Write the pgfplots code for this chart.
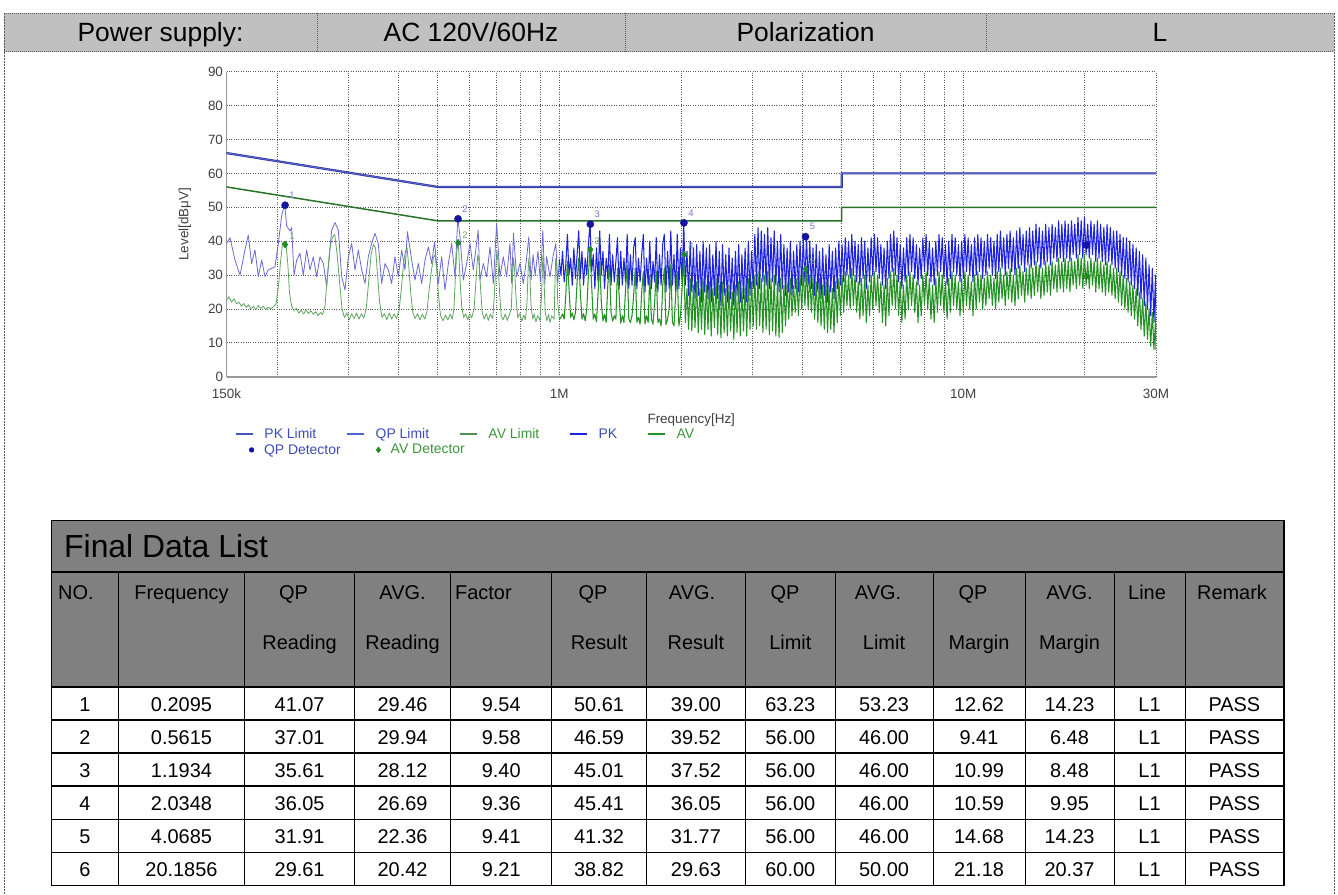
\documentclass[border=0pt]{standalone}
\usepackage{fontspec}
\setmainfont{Liberation Sans}
\usepackage{pgfplots}
\usepackage{pgfplotstable}
\pgfplotsset{compat=1.18}
\definecolor{hdrgray}{RGB}{192,192,192}
\definecolor{tabgray}{RGB}{128,128,128}
\definecolor{pklim}{RGB}{45,45,140}
\definecolor{qplim}{RGB}{80,100,215}
\definecolor{avlim}{RGB}{40,115,40}
\definecolor{pkA}{RGB}{105,105,215}
\definecolor{pkB}{RGB}{30,35,225}
\definecolor{avA}{RGB}{95,165,95}
\definecolor{avB}{RGB}{35,145,35}
\definecolor{qpdet}{RGB}{20,20,160}
\definecolor{avdet}{RGB}{30,140,30}
\definecolor{lblue}{RGB}{120,120,205}
\definecolor{lgreen}{RGB}{110,170,110}
\definecolor{legblue}{RGB}{60,75,185}
\definecolor{leggreen}{RGB}{60,150,60}
\definecolor{framec}{RGB}{90,90,90}

% PK trace, 150 kHz - 1 MHz (lf = log10 of frequency in MHz, L in dBuV)
\pgfplotstableread[row sep=\\]{lf L\\
-0.8239 39.3\\ -0.8152 41.0\\ -0.8029 34.4\\ -0.7905 30.0\\ -0.7781 37.4\\ -0.7699 41.8\\ -0.7616 33.4\\ -0.7534 37.4\\ -0.7451 29.5\\ -0.7368 34.4\\
-0.7286 29.5\\ -0.7204 31.5\\ -0.7121 32.0\\ -0.7039 32.4\\ -0.6956 39.3\\ -0.6874 47.5\\ -0.6800 51.0\\ -0.6750 44.5\\ -0.6667 43.0\\ -0.6626 44.0\\
-0.6568 30.0\\ -0.6502 34.4\\ -0.6420 36.4\\ -0.6337 30.0\\ -0.6255 37.4\\ -0.6172 31.5\\ -0.6090 35.4\\ -0.6007 29.5\\ -0.5925 35.4\\ -0.5842 33.4\\
-0.5760 26.6\\ -0.5636 43.2\\ -0.5553 45.5\\ -0.5471 43.2\\ -0.5388 29.5\\ -0.5306 25.6\\ -0.5223 35.4\\ -0.5141 39.3\\ -0.5058 31.5\\ -0.4976 37.4\\
-0.4893 31.5\\ -0.4811 27.5\\ -0.4728 35.4\\ -0.4646 39.3\\ -0.4563 42.3\\ -0.4481 39.3\\ -0.4398 27.5\\ -0.4316 33.4\\ -0.4233 31.5\\ -0.4151 27.5\\
-0.4068 35.4\\ -0.3986 29.5\\ -0.3903 37.4\\ -0.3821 31.5\\ -0.3760 42.8\\ -0.3656 34.4\\ -0.3573 28.5\\ -0.3491 33.4\\ -0.3408 27.5\\ -0.3326 34.4\\
-0.3243 38.3\\ -0.3161 33.4\\ -0.3090 39.8\\ -0.2996 27.5\\ -0.2913 35.4\\ -0.2831 25.6\\ -0.2748 33.4\\ -0.2666 39.3\\ -0.2583 29.5\\ -0.2515 47.0\\
-0.2460 41.3\\ -0.2377 28.5\\ -0.2295 33.4\\ -0.2212 39.3\\ -0.2130 31.5\\ -0.2010 43.2\\ -0.1965 28.5\\ -0.1882 33.4\\ -0.1800 29.5\\ -0.1717 38.3\\
-0.1635 27.5\\ -0.1552 45.2\\ -0.1470 29.5\\ -0.1387 35.4\\ -0.1305 29.5\\ -0.1222 39.3\\ -0.1180 27.5\\ -0.1135 42.3\\ -0.1057 29.5\\ -0.0975 33.4\\
-0.0892 27.5\\ -0.0810 35.0\\ -0.0757 41.3\\ -0.0700 28.5\\ -0.0650 36.0\\ -0.0600 30.0\\ -0.0530 37.0\\ -0.0470 28.0\\ -0.0410 43.2\\ -0.0360 27.5\\
-0.0315 35.4\\ -0.0232 29.5\\ -0.0150 36.0\\ -0.0088 39.3\\ -0.0040 27.5\\ 0.0000 34.4\\
}\pkAtab

% PK trace, 1 MHz - 30 MHz
\pgfplotstableread[row sep=\\]{lf L\\
0.000 34.4\\ 0.004 30\\ 0.008 37\\ 0.012 28\\ 0.016 33\\ 0.020 42\\ 0.024 30\\ 0.028 35\\ 0.032 27\\ 0.036 38\\ 0.040 29\\
0.044 36\\ 0.048 43\\ 0.052 29\\ 0.056 37\\ 0.060 27\\ 0.064 35\\ 0.068 30\\ 0.072 39\\ 0.076 45.5\\ 0.080 31\\
0.084 36\\ 0.088 26\\ 0.092 38\\ 0.096 28\\ 0.100 43\\ 0.104 30\\ 0.108 37\\ 0.112 26\\ 0.116 35\\ 0.120 29\\
0.124 42\\ 0.128 27\\ 0.132 36\\ 0.136 28\\ 0.140 34\\ 0.144 41\\ 0.148 26\\ 0.152 37\\ 0.156 27\\ 0.160 35\\
0.164 28\\ 0.168 42\\ 0.172 26\\ 0.176 36\\ 0.180 27\\ 0.184 38\\ 0.188 41\\ 0.192 26\\ 0.196 35\\ 0.200 28\\
0.204 36\\ 0.208 42\\ 0.212 25\\ 0.216 35\\ 0.220 27\\ 0.224 40\\ 0.228 26\\ 0.232 34\\ 0.236 28\\ 0.240 41\\
0.244 25\\ 0.248 36\\ 0.252 27\\ 0.256 39\\ 0.260 42\\ 0.264 25\\ 0.268 37\\ 0.272 26\\ 0.276 43\\ 0.280 27\\
0.284 36\\ 0.288 25\\ 0.292 42\\ 0.296 26\\ 0.300 38\\ 0.304 28\\ 0.308 45.5\\ 0.312 27\\ 0.316 37\\ 0.320 24\\
0.324 40\\ 0.328 25\\ 0.332 38\\ 0.336 23\\ 0.340 39\\ 0.344 24\\ 0.348 37\\ 0.352 22\\ 0.356 40\\ 0.360 25\\
0.364 38\\ 0.368 23\\ 0.372 39\\ 0.376 22\\ 0.380 36\\ 0.384 24\\ 0.388 40\\ 0.392 23\\ 0.396 37\\ 0.400 21\\
0.404 39\\ 0.408 24\\ 0.412 36\\ 0.416 22\\ 0.420 38\\ 0.424 23\\ 0.428 35\\ 0.432 21\\ 0.436 37\\ 0.440 24\\
0.444 39\\ 0.448 22\\ 0.452 36\\ 0.456 23\\ 0.460 38\\ 0.464 22\\ 0.468 40\\ 0.472 24\\ 0.476 37\\ 0.480 26\\
0.484 42\\ 0.488 27\\ 0.492 44\\ 0.496 26\\ 0.500 43\\ 0.504 28\\ 0.508 42\\ 0.512 27\\ 0.516 44\\ 0.520 26\\
0.524 41\\ 0.528 28\\ 0.532 43\\ 0.536 27\\ 0.540 40\\ 0.544 25\\ 0.548 42\\ 0.552 26\\ 0.556 39\\ 0.560 24\\
0.564 38\\ 0.568 25\\ 0.572 40\\ 0.576 24\\ 0.580 37\\ 0.584 26\\ 0.588 39\\ 0.592 25\\ 0.596 40\\ 0.600 27\\
0.604 41\\ 0.608 28\\ 0.612 41.5\\ 0.616 27\\ 0.620 40\\ 0.624 26\\ 0.628 38\\ 0.632 24\\ 0.636 39\\ 0.640 25\\
0.644 37\\ 0.648 23\\ 0.652 38\\ 0.656 24\\ 0.660 36\\ 0.664 22\\ 0.668 39\\ 0.672 25\\ 0.676 37\\ 0.680 23\\
0.684 38\\ 0.688 26\\ 0.692 40\\ 0.696 27\\ 0.700 39\\ 0.704 28\\ 0.708 41\\ 0.712 30\\ 0.716 40\\ 0.720 29\\
0.724 42\\ 0.728 30\\ 0.732 40\\ 0.736 28\\ 0.740 39\\ 0.744 27\\ 0.748 41\\ 0.752 29\\ 0.756 40\\ 0.760 26\\
0.764 38\\ 0.768 28\\ 0.772 41\\ 0.776 30\\ 0.780 42\\ 0.784 31\\ 0.788 41\\ 0.792 29\\ 0.796 39\\ 0.800 27\\
0.804 38\\ 0.808 26\\ 0.812 40\\ 0.816 29\\ 0.820 42\\ 0.824 31\\ 0.828 43\\ 0.832 30\\ 0.836 41\\ 0.840 28\\
0.844 39\\ 0.848 26\\ 0.852 38\\ 0.856 28\\ 0.860 41\\ 0.864 30\\ 0.868 42\\ 0.872 31\\ 0.876 41\\ 0.880 29\\
0.884 39\\ 0.888 27\\ 0.892 38\\ 0.896 29\\ 0.900 41\\ 0.904 31\\ 0.908 42\\ 0.912 30\\ 0.916 40\\ 0.920 28\\
0.924 38\\ 0.928 27\\ 0.932 40\\ 0.936 30\\ 0.940 42\\ 0.944 31\\ 0.948 41\\ 0.952 29\\ 0.956 39\\ 0.960 27\\
0.964 40\\ 0.968 29\\ 0.972 42\\ 0.976 31\\ 0.980 41\\ 0.984 30\\ 0.988 39\\ 0.992 28\\ 0.996 40\\ 1.000 29\\
1.004 42\\ 1.008 31\\ 1.012 41\\ 1.016 30\\ 1.020 39\\ 1.024 28\\ 1.028 41\\ 1.032 30\\ 1.036 42\\ 1.040 31\\
1.044 41\\ 1.048 29\\ 1.052 40\\ 1.056 30\\ 1.060 42\\ 1.064 32\\ 1.068 41\\ 1.072 30\\ 1.076 40\\ 1.080 29\\
1.084 42\\ 1.088 31\\ 1.092 43\\ 1.096 32\\ 1.100 41\\ 1.104 30\\ 1.108 42\\ 1.112 32\\ 1.116 43\\ 1.120 31\\
1.124 41\\ 1.128 30\\ 1.132 43\\ 1.136 32\\ 1.140 44\\ 1.144 33\\ 1.148 42\\ 1.152 31\\ 1.156 43\\ 1.160 33\\
1.164 44\\ 1.168 32\\ 1.172 43\\ 1.176 33\\ 1.180 45\\ 1.184 34\\ 1.188 44\\ 1.192 32\\ 1.196 43\\ 1.200 33\\
1.204 45\\ 1.208 34\\ 1.212 44\\ 1.216 33\\ 1.220 45\\ 1.224 35\\ 1.228 44\\ 1.232 34\\ 1.236 46\\ 1.240 35\\
1.244 45\\ 1.248 34\\ 1.252 46\\ 1.256 35\\ 1.260 45\\ 1.264 34\\ 1.268 46\\ 1.272 36\\ 1.276 45\\ 1.280 35\\
1.284 47\\ 1.288 36\\ 1.292 46\\ 1.296 35\\ 1.300 47\\ 1.304 36\\ 1.308 45\\ 1.312 35\\ 1.316 46\\ 1.320 36\\
1.324 45\\ 1.328 34\\ 1.332 46\\ 1.336 35\\ 1.340 45\\ 1.344 34\\ 1.348 44\\ 1.352 33\\ 1.356 45\\ 1.360 34\\
1.364 44\\ 1.368 33\\ 1.372 43\\ 1.376 32\\ 1.380 43\\ 1.384 31\\ 1.388 42\\ 1.392 30\\ 1.396 41\\ 1.400 29\\
1.404 41\\ 1.408 28\\ 1.412 40\\ 1.416 27\\ 1.420 39\\ 1.424 26\\ 1.428 38\\ 1.432 24\\ 1.436 37\\ 1.440 23\\
1.444 36\\ 1.448 21\\ 1.452 35\\ 1.456 20\\ 1.460 33\\ 1.464 18\\ 1.468 32\\ 1.472 16\\ 1.476 30\\ 1.4771 17\\
}\pkBtab

% AV trace, 150 kHz - 1 MHz
\pgfplotstableread[row sep=\\]{lf L\\
-0.8239 22.5\\ -0.8180 23.6\\ -0.8110 22.0\\ -0.8050 23.0\\ -0.7990 21.5\\ -0.7930 22.0\\ -0.7870 20.8\\ -0.7810 21.6\\ -0.7750 20.5\\ -0.7690 21.2\\
-0.7630 20.0\\ -0.7570 20.8\\ -0.7510 19.8\\ -0.7450 21.0\\ -0.7390 20.2\\ -0.7330 20.8\\ -0.7270 19.8\\ -0.7210 20.5\\ -0.7150 20.0\\ -0.7080 20.6\\
-0.7010 21.5\\ -0.6950 27.0\\ -0.6900 34.0\\ -0.6850 39.5\\ -0.6800 40.0\\ -0.6760 38.5\\ -0.6720 33.0\\ -0.6680 25.0\\ -0.6630 21.0\\ -0.6570 19.5\\
-0.6510 20.2\\ -0.6450 18.8\\ -0.6390 19.6\\ -0.6330 18.5\\ -0.6270 19.8\\ -0.6210 18.6\\ -0.6150 19.5\\ -0.6090 18.4\\ -0.6030 19.2\\ -0.5970 18.0\\
-0.5910 19.0\\ -0.5860 18.3\\ -0.5800 21.0\\ -0.5740 30.0\\ -0.5680 38.0\\ -0.5620 41.0\\ -0.5560 42.0\\ -0.5500 36.0\\ -0.5440 28.0\\ -0.5380 20.0\\
-0.5320 17.5\\ -0.5260 18.8\\ -0.5200 16.8\\ -0.5140 18.6\\ -0.5080 17.2\\ -0.5020 18.8\\ -0.4960 17.0\\ -0.4900 18.6\\ -0.4840 17.4\\ -0.4780 20.0\\
-0.4720 28.0\\ -0.4660 36.0\\ -0.4600 39.0\\ -0.4550 38.0\\ -0.4500 30.0\\ -0.4450 22.0\\ -0.4390 17.5\\ -0.4330 18.6\\ -0.4270 16.8\\ -0.4210 18.8\\
-0.4150 17.0\\ -0.4090 18.5\\ -0.4030 17.2\\ -0.3970 19.5\\ -0.3910 26.0\\ -0.3860 33.0\\ -0.3810 37.0\\ -0.3770 38.0\\ -0.3730 33.0\\ -0.3680 25.0\\
-0.3630 19.0\\ -0.3570 17.2\\ -0.3510 18.6\\ -0.3450 16.8\\ -0.3390 18.4\\ -0.3330 17.0\\ -0.3280 19.0\\ -0.3220 26.0\\ -0.3170 31.0\\ -0.3120 35.0\\
-0.3080 36.0\\ -0.3040 32.0\\ -0.2990 24.0\\ -0.2940 18.0\\ -0.2880 16.5\\ -0.2820 18.2\\ -0.2760 16.8\\ -0.2700 18.5\\ -0.2650 17.0\\ -0.2610 20.0\\
-0.2570 30.0\\ -0.2540 37.0\\ -0.2515 39.5\\ -0.2490 37.0\\ -0.2460 29.0\\ -0.2420 21.0\\ -0.2370 17.5\\ -0.2320 18.6\\ -0.2270 16.8\\ -0.2220 18.5\\
-0.2170 17.4\\ -0.2110 20.0\\ -0.2060 29.0\\ -0.2020 36.0\\ -0.1990 34.0\\ -0.1950 26.0\\ -0.1910 19.0\\ -0.1860 17.0\\ -0.1810 18.6\\ -0.1760 16.6\\
-0.1710 18.4\\ -0.1650 17.2\\ -0.1610 24.0\\ -0.1570 33.0\\ -0.1545 37.0\\ -0.1520 34.0\\ -0.1480 25.0\\ -0.1440 18.0\\ -0.1390 16.8\\ -0.1340 18.5\\
-0.1290 16.6\\ -0.1240 18.2\\ -0.1190 20.0\\ -0.1160 29.0\\ -0.1135 35.0\\ -0.1110 32.0\\ -0.1070 23.0\\ -0.1030 17.4\\ -0.0980 18.6\\ -0.0930 16.4\\
-0.0880 18.2\\ -0.0840 16.8\\ -0.0800 22.0\\ -0.0775 31.0\\ -0.0755 35.0\\ -0.0735 31.0\\ -0.0700 21.0\\ -0.0660 17.0\\ -0.0620 18.5\\ -0.0580 16.2\\
-0.0540 18.0\\ -0.0480 16.6\\ -0.0440 24.0\\ -0.0420 32.0\\ -0.0405 36.0\\ -0.0385 30.0\\ -0.0350 19.0\\ -0.0310 16.5\\ -0.0270 18.4\\ -0.0230 16.0\\
-0.0190 18.0\\ -0.0130 17.0\\ -0.0110 27.0\\ -0.0090 35.0\\ -0.0070 34.0\\ -0.0040 22.0\\ 0.0000 16.8\\
}\avAtab

% AV trace, 1 MHz - 30 MHz
\pgfplotstableread[row sep=\\]{lf L\\
0.000 16.8\\ 0.004 17.5\\ 0.008 18.5\\ 0.012 17\\ 0.016 24\\ 0.020 34\\ 0.024 26\\ 0.028 17.5\\ 0.032 18.8\\ 0.036 16.8\\ 0.040 19\\
0.044 28\\ 0.048 35\\ 0.052 25\\ 0.056 17\\ 0.060 18.6\\ 0.064 16.5\\ 0.068 20\\ 0.072 30\\ 0.076 37.5\\ 0.080 27\\
0.084 17\\ 0.088 18.5\\ 0.092 16.2\\ 0.096 25\\ 0.100 34\\ 0.104 22\\ 0.108 16.5\\ 0.112 18.4\\ 0.116 16\\ 0.120 27\\
0.124 33\\ 0.128 19\\ 0.132 16.4\\ 0.136 18\\ 0.140 17\\ 0.144 32\\ 0.148 24\\ 0.152 15.8\\ 0.156 18\\ 0.160 16\\
0.164 26\\ 0.168 33\\ 0.172 17\\ 0.176 16\\ 0.180 18\\ 0.184 24\\ 0.188 32\\ 0.192 16\\ 0.196 17.5\\ 0.200 15.5\\
0.204 25\\ 0.208 31\\ 0.212 15.6\\ 0.216 18\\ 0.220 16\\ 0.224 30\\ 0.228 17\\ 0.232 15.5\\ 0.236 22\\ 0.240 31\\
0.244 16\\ 0.248 17\\ 0.252 15\\ 0.256 27\\ 0.260 32\\ 0.264 15.4\\ 0.268 17\\ 0.272 20\\ 0.276 33\\ 0.280 16\\
0.284 15\\ 0.288 24\\ 0.292 31\\ 0.296 15\\ 0.300 18\\ 0.304 26\\ 0.308 36\\ 0.312 16\\ 0.316 26\\ 0.320 14\\
0.324 29\\ 0.328 13.5\\ 0.332 27\\ 0.336 14.5\\ 0.340 28\\ 0.344 13\\ 0.348 26\\ 0.352 14\\ 0.356 29\\ 0.360 12.5\\
0.364 27\\ 0.368 14\\ 0.372 28\\ 0.376 12\\ 0.380 26\\ 0.384 14.5\\ 0.388 29\\ 0.392 12.5\\ 0.396 27\\ 0.400 11.5\\
0.404 28\\ 0.408 13\\ 0.412 26\\ 0.416 12\\ 0.420 27\\ 0.424 13.5\\ 0.428 25\\ 0.432 11\\ 0.436 27\\ 0.440 13\\
0.444 28\\ 0.448 12\\ 0.452 26\\ 0.456 13.5\\ 0.460 27\\ 0.464 12\\ 0.468 29\\ 0.472 14\\ 0.476 28\\ 0.480 15\\
0.484 30\\ 0.488 14\\ 0.492 31\\ 0.496 15\\ 0.500 29\\ 0.504 13\\ 0.508 30\\ 0.512 14\\ 0.516 31\\ 0.520 12.5\\
0.524 29\\ 0.528 13.5\\ 0.532 30\\ 0.536 12\\ 0.540 28\\ 0.544 11.5\\ 0.548 29\\ 0.552 13\\ 0.556 27\\ 0.560 15\\
0.564 28\\ 0.568 17\\ 0.572 29\\ 0.576 18\\ 0.580 27\\ 0.584 19\\ 0.588 29\\ 0.592 18\\ 0.596 30\\ 0.600 20\\
0.604 31\\ 0.608 21\\ 0.612 32\\ 0.616 20\\ 0.620 30\\ 0.624 19\\ 0.628 29\\ 0.632 17\\ 0.636 28\\ 0.640 16\\
0.644 29\\ 0.648 15\\ 0.652 27\\ 0.656 14\\ 0.660 28\\ 0.664 13\\ 0.668 27\\ 0.672 14\\ 0.676 26\\ 0.680 13\\
0.684 28\\ 0.688 16\\ 0.692 29\\ 0.696 18\\ 0.700 30\\ 0.704 19\\ 0.708 31\\ 0.712 21\\ 0.716 30\\ 0.720 20\\
0.724 32\\ 0.728 21\\ 0.732 30\\ 0.736 19\\ 0.740 28\\ 0.744 17\\ 0.748 29\\ 0.752 18\\ 0.756 30\\ 0.760 16\\
0.764 27\\ 0.768 18\\ 0.772 30\\ 0.776 20\\ 0.780 31\\ 0.784 21\\ 0.788 30\\ 0.792 19\\ 0.796 28\\ 0.800 16\\
0.804 27\\ 0.808 15\\ 0.812 29\\ 0.816 18\\ 0.820 31\\ 0.824 21\\ 0.828 32\\ 0.832 20\\ 0.836 30\\ 0.840 18\\
0.844 28\\ 0.848 16\\ 0.852 27\\ 0.856 17\\ 0.860 30\\ 0.864 20\\ 0.868 31\\ 0.872 21\\ 0.876 30\\ 0.880 19\\
0.884 28\\ 0.888 16\\ 0.892 27\\ 0.896 18\\ 0.900 30\\ 0.904 21\\ 0.908 31\\ 0.912 20\\ 0.916 29\\ 0.920 17\\
0.924 27\\ 0.928 16\\ 0.932 29\\ 0.936 19\\ 0.940 31\\ 0.944 21\\ 0.948 30\\ 0.952 19\\ 0.956 28\\ 0.960 17\\
0.964 29\\ 0.968 19\\ 0.972 31\\ 0.976 21\\ 0.980 30\\ 0.984 20\\ 0.988 28\\ 0.992 18\\ 0.996 29\\ 1.000 19\\
1.004 31\\ 1.008 21\\ 1.012 30\\ 1.016 20\\ 1.020 28\\ 1.024 18\\ 1.028 30\\ 1.032 20\\ 1.036 31\\ 1.040 22\\
1.044 30\\ 1.048 20\\ 1.052 29\\ 1.056 21\\ 1.060 31\\ 1.064 23\\ 1.068 30\\ 1.072 21\\ 1.076 29\\ 1.080 20\\
1.084 31\\ 1.088 22\\ 1.092 32\\ 1.096 23\\ 1.100 30\\ 1.104 21\\ 1.108 31\\ 1.112 23\\ 1.116 32\\ 1.120 22\\
1.124 30\\ 1.128 21\\ 1.132 32\\ 1.136 23\\ 1.140 33\\ 1.144 24\\ 1.148 31\\ 1.152 22\\ 1.156 32\\ 1.160 24\\
1.164 33\\ 1.168 23\\ 1.172 32\\ 1.176 24\\ 1.180 34\\ 1.184 25\\ 1.188 33\\ 1.192 23\\ 1.196 32\\ 1.200 24\\
1.204 34\\ 1.208 25\\ 1.212 33\\ 1.216 24\\ 1.220 34\\ 1.224 26\\ 1.228 33\\ 1.232 25\\ 1.236 35\\ 1.240 26\\
1.244 34\\ 1.248 25\\ 1.252 35\\ 1.256 26\\ 1.260 34\\ 1.264 25\\ 1.268 35\\ 1.272 27\\ 1.276 34\\ 1.280 26\\
1.284 36\\ 1.288 27\\ 1.292 35\\ 1.296 26\\ 1.300 36\\ 1.304 27\\ 1.308 34\\ 1.312 26\\ 1.316 35\\ 1.320 27\\
1.324 34\\ 1.328 25\\ 1.332 35\\ 1.336 26\\ 1.340 34\\ 1.344 25\\ 1.348 33\\ 1.352 24\\ 1.356 34\\ 1.360 25\\
1.364 33\\ 1.368 24\\ 1.372 32\\ 1.376 23\\ 1.380 32\\ 1.384 22\\ 1.388 31\\ 1.392 21\\ 1.396 30\\ 1.400 20\\
1.404 29\\ 1.408 19\\ 1.412 28\\ 1.416 18\\ 1.420 27\\ 1.424 17\\ 1.428 26\\ 1.432 15\\ 1.436 25\\ 1.440 14\\
1.444 23\\ 1.448 12\\ 1.452 22\\ 1.456 11\\ 1.460 20\\ 1.464 9\\ 1.468 19\\ 1.472 8\\ 1.476 17\\ 1.4771 8\\
}\avBtab

\begin{document}
\begin{tikzpicture}[x=1bp,y=1bp]
\path[use as bounding box] (0,0) rectangle (1338,-894);

% ---------- header ----------
\fill[hdrgray] (4,-13) rectangle (1334,-51.5);
\draw[framec, line width=0.8bp, dash pattern=on 1bp off 1bp]
  (4,-13) -- (1334,-13) (4,-51.5) -- (1334,-51.5)
  (317,-13) -- (317,-51.5) (625,-13) -- (625,-51.5) (986,-13) -- (986,-51.5);
\draw[framec, line width=0.8bp, dash pattern=on 1.5bp off 1.5bp]
  (4,-13) -- (4,-894) (1334,-13) -- (1334,-894);
\begin{scope}[every node/.style={anchor=base, inner sep=0pt, font=\fontsize{26.5}{30}\selectfont}]
\node at (160.5,-41.5) {Power supply:};
\node at (471,-41.5) {AC 120V/60Hz};
\node at (805.5,-41.5) {Polarization};
\node at (1160,-41.5) {L};
\end{scope}

% ---------- chart ----------
\begin{axis}[
  at={(226.5bp,-376.7bp)}, anchor=south west,
  scale only axis, width=929.5bp, height=305bp,
  xmode=log, xmin=0.15, xmax=30, ymin=0, ymax=90,
  xtick={0.15,1,10,30}, xticklabels={150k,1M,10M,30M},
  minor xtick={0.2,0.3,0.4,0.5,0.6,0.7,0.8,0.9,2,3,4,5,6,7,8,9,20},
  ytick={0,10,...,90},
  grid=both,
  major grid style={black!65, dotted, line width=0.8bp},
  minor grid style={black!65, dotted, line width=0.8bp},
  axis x line*=bottom, axis y line*=left,
  axis line style={black!40, line width=1.6bp, -},
  major tick length=0pt, minor tick length=0pt,
  /pgf/number format/assume math mode=true,
  tick label style={font=\fontsize{13.5}{16}\selectfont, text=black!75},
  xticklabel style={yshift=-8.8bp},
  xlabel={Frequency[Hz]}, ylabel={Level[dBμV]},
  every axis x label/.style={at={(rel axis cs:0.5,0)}, yshift=-43.3bp, anchor=center,
    font=\fontsize{13.5}{16}\selectfont, text=black!75},
  every axis y label/.style={at={(rel axis cs:0,0.5)}, xshift=-41.5bp, rotate=90, anchor=center,
    font=\fontsize{13.5}{16}\selectfont, text=black!75},
  legend columns=5,
  legend style={at={(0.0091,-0.188)}, anchor=west, draw=none, fill=none, inner sep=0pt,
    font=\fontsize{14}{16}\selectfont, nodes={inner xsep=11bp},
    /tikz/every even column/.append style={column sep=19bp}},
  legend cell align=left,
]
\addlegendimage{color=qplim!70!pklim, line width=1.3bp, mark=none}
\addlegendentry[text=legblue]{PK Limit}
\addlegendimage{color=qplim, line width=1.3bp, mark=none}
\addlegendentry[text=legblue]{QP Limit}
\addlegendimage{color=avlim!80!white, line width=1.3bp, mark=none}
\addlegendentry[text=leggreen]{AV Limit}
\addlegendimage{color=pkB, line width=1.3bp, mark=none}
\addlegendentry[text=legblue]{PK}
\addlegendimage{color=avB, line width=1.3bp, mark=none}
\addlegendentry[text=leggreen]{AV}

% marker 6 lies inside the dense traces
\addplot[forget plot, only marks, mark=*, mark size=3.6bp, color=qpdet] coordinates {(20.1856,38.82)};
\addplot[forget plot, only marks, mark=diamond*, mark size=3.6bp, color=avdet] coordinates {(20.1856,29.63)};

% traces
\addplot[forget plot, color=pkA, line width=0.8bp, line join=round, mark=none] table[x expr={10^(\thisrow{lf})}, y=L] {\pkAtab};
\addplot[forget plot, color=pkB, line width=1.05bp, line join=round, mark=none] table[x expr={10^(\thisrow{lf})}, y=L] {\pkBtab};
\addplot[forget plot, color=avA, line width=0.8bp, line join=round, mark=none] table[x expr={10^(\thisrow{lf})}, y=L] {\avAtab};
\addplot[forget plot, color=avB, line width=1.05bp, line join=round, mark=none] table[x expr={10^(\thisrow{lf})}, y=L] {\avBtab};

% limits
\addplot[forget plot, color=pklim, line width=2.2bp, mark=none] coordinates {(0.15,66) (0.5,56) (5,56) (5,60) (30,60)};
\addplot[forget plot, color=qplim, line width=1.1bp, mark=none] coordinates {(0.15,66) (0.5,56) (5,56) (5,60) (30,60)};
\addplot[forget plot, color=avlim, line width=1.5bp, mark=none] coordinates {(0.15,56) (0.5,46) (5,46) (5,50) (30,50)};

% detectors
\addplot[forget plot, only marks, mark=*, mark size=3.6bp, color=qpdet,
  nodes near coords, point meta=explicit symbolic,
  every node near coord/.append style={font=\fontsize{9.5}{10}\selectfont, text=lblue, anchor=center, xshift=7bp, yshift=10bp, inner sep=0pt}]
  table[row sep=\\, x=f, y=L, meta=lab] {f L lab\\ 0.2095 50.61 1\\ 0.5615 46.59 2\\ 1.1934 45.01 3\\ 2.0348 45.41 4\\ 4.0685 41.32 5\\};
\addplot[forget plot, only marks, mark=diamond*, mark size=3.6bp, color=avdet,
  nodes near coords, point meta=explicit symbolic,
  every node near coord/.append style={font=\fontsize{9.5}{10}\selectfont, text=lgreen, anchor=center, xshift=7bp, yshift=8bp, inner sep=0pt}]
  table[row sep=\\, x=f, y=L, meta=lab] {f L lab\\ 0.2095 39.00 1\\ 0.5615 39.52 2\\ 1.1934 37.52 3\\ 2.0348 36.05 4\\ 4.0685 31.77 5\\};
\end{axis}

% second legend row
\begin{axis}[
  at={(226.5bp,-376.7bp)}, anchor=south west,
  scale only axis, width=929.5bp, height=305bp,
  hide axis, xmin=0, xmax=1, ymin=0, ymax=1,
  legend columns=2,
  legend style={at={(0.0242,-0.240)}, anchor=west, draw=none, fill=none, inner sep=0pt,
    font=\fontsize{14}{16}\selectfont, nodes={inner xsep=10bp},
    /tikz/every even column/.append style={column sep=25.5bp}},
  legend cell align=left,
]
\addlegendimage{only marks, mark=*, mark size=2.4bp, color=qpdet}
\addlegendentry[text=legblue]{QP Detector}
\addlegendimage{only marks, mark=diamond*, mark size=3bp, color=avdet}
\addlegendentry[text=leggreen]{AV Detector}
\end{axis}

% ---------- table ----------
\fill[tabgray] (51.3,-520.7) rectangle (1283.8,-687);
\foreach \x in {118.3,244.6,354.6,450.5,551.9,646.2,745.6,835,933,1025,1114,1185}
  \draw[black, line width=1bp] (\x,-572) -- (\x,-885.5);
\draw[black, line width=1.3bp] (51.3,-572) -- (1283.8,-572);
\foreach \y in {687,720.08,753.17,786.25,819.33,852.42}
  \draw[black, line width=1.6bp] (51.3,-\y) -- (1283.8,-\y);
\draw[black, line width=1.5bp] (51.3,-520.7) rectangle (1283.8,-885.5);

\node[anchor=west, inner sep=0pt, font=\fontsize{32}{36}\selectfont] at (64,-546.5) {Final Data List};

\begin{scope}[every node/.style={anchor=base, inner sep=0pt, font=\fontsize{20}{24}\selectfont}]
\node[anchor=base west] at (58,-599) {NO.};
\node at (181.45,-599) {Frequency};
\node at (293.6,-599) {QP};
\node at (402.55,-599) {AVG.};
\node[anchor=base west] at (455,-599) {Factor};
\node at (593,-599) {QP};
\node at (692,-599) {AVG.};
\node at (785,-599) {QP};
\node at (878,-599) {AVG.};
\node at (973,-599) {QP};
\node at (1069.5,-599) {AVG.};
\node at (1147,-599) {Line};
\node at (1232,-599) {Remark};
\node at (299.6,-649) {Reading};
\node at (402.55,-649) {Reading};
\node at (599.05,-649) {Result};
\node at (695.9,-649) {Result};
\node at (790.3,-649) {Limit};
\node at (884,-649) {Limit};
\node at (979,-649) {Margin};
\node at (1069.5,-649) {Margin};

\foreach \row [count=\ri] in {
  {1,0.2095,41.07,29.46,9.54,50.61,39.00,63.23,53.23,12.62,14.23,L1,PASS},
  {2,0.5615,37.01,29.94,9.58,46.59,39.52,56.00,46.00,9.41,6.48,L1,PASS},
  {3,1.1934,35.61,28.12,9.40,45.01,37.52,56.00,46.00,10.99,8.48,L1,PASS},
  {4,2.0348,36.05,26.69,9.36,45.41,36.05,56.00,46.00,10.59,9.95,L1,PASS},
  {5,4.0685,31.91,22.36,9.41,41.32,31.77,56.00,46.00,14.68,14.23,L1,PASS},
  {6,20.1856,29.61,20.42,9.21,38.82,29.63,60.00,50.00,21.18,20.37,L1,PASS}} {
  \pgfmathsetmacro{\ry}{-(687+33.08*(\ri-0.5)+8)}
  \foreach \v [count=\ci] in \row {
    \pgfmathsetmacro{\cx}{{84.8,181.45,299.6,402.55,501.2,599.05,695.9,790.3,884,979,1069.5,1149.5,1234.4}[\ci-1]}
    \node at (\cx,\ry) {\v};
  }
}
\end{scope}
\end{tikzpicture}
\end{document}
